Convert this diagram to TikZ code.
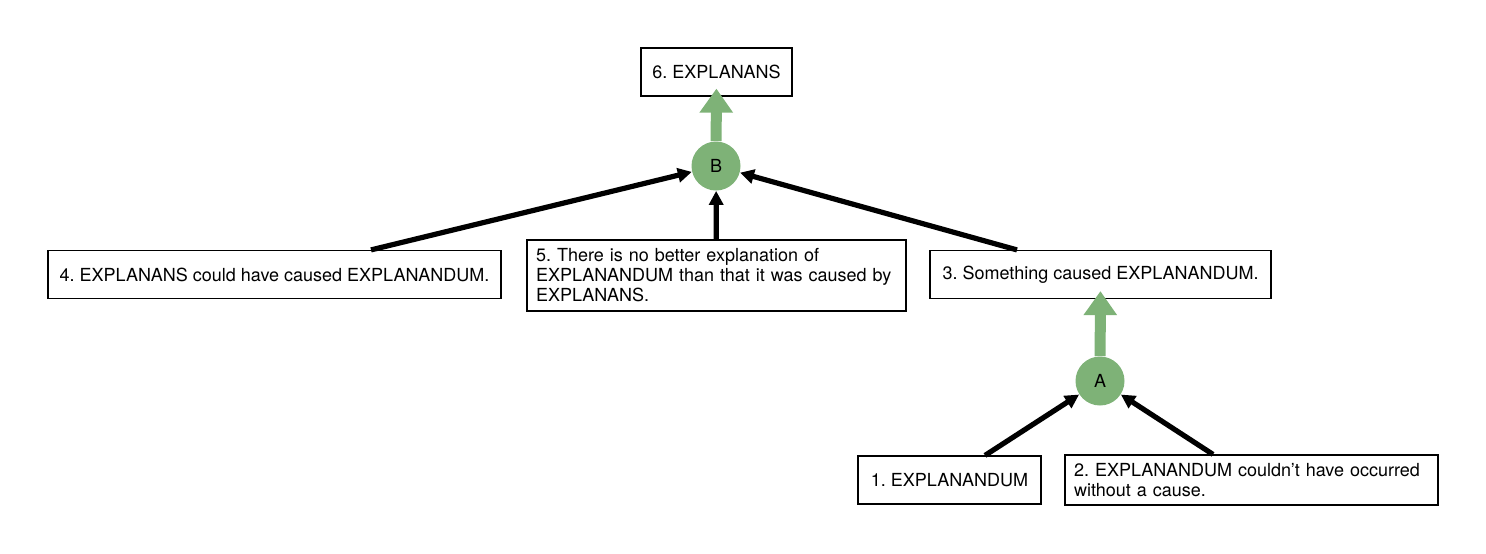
\documentclass[tikz,border=0pt]{standalone}
\usepackage{fontspec}
\setmainfont{TeX Gyre Heros}
\usetikzlibrary{arrows.meta}
\definecolor{argreen}{RGB}{126,178,119}
\frenchspacing

\begin{document}
\begin{tikzpicture}[x=0.5pt,y=-0.5pt,
    claim/.style={draw,line width=0.6pt,font=\fontsize{9}{10}\selectfont,inner xsep=5pt,minimum height=24pt},
    longclaim/.style={claim,align=left,inner xsep=4.5pt},
    inference/.style={circle,fill=argreen,minimum size=24.5pt,inner sep=0pt,font=\fontsize{9}{10}\selectfont},
    premise/.style={line width=2.6pt,-{Triangle[length=7pt,width=7pt]}},
    conclude/.style={argreen,line width=5.5pt,-{Triangle[length=12pt,width=16pt]},shorten >=-4pt}]

    \useasboundingbox (0,0) rectangle (1486,553);

    % upper argument
    \node[claim,minimum width=75.5pt] (six) at (716.5,72) {6. EXPLANANS};
    \node[inference] (B) at (716,166) {B};
    \node[claim,minimum width=226.5pt] (four) at (274.5,274.5) {4. EXPLANANS could have caused EXPLANANDUM.};
    \node[longclaim,minimum height=35.5pt,text width=180.5pt] (five) at (716.5,275.5)
        {5. There is no better explanation of\\EXPLANANDUM than that it was caused by\\EXPLANANS.};
    \node[claim,minimum width=170.5pt] (three) at (1100.5,274.5) {3. Something caused EXPLANANDUM.};

    % lower argument
    \node[inference] (A) at (1100,381) {A};
    \node[claim,minimum width=91.5pt] (one) at (949.5,480) {1. EXPLANANDUM};
    \node[longclaim,minimum height=25pt,text width=177.5pt] (two) at (1251.5,480)
        {2. EXPLANANDUM couldn't have occurred\\without a cause.};

    \draw[premise] ([xshift=48.25pt]four.north) -- (B);
    \draw[premise] (five) -- (B);
    \draw[premise] ([xshift=-41.75pt]three.north) -- (B);
    \draw[conclude] (B) -- (six);

    \draw[premise] ([xshift=17.75pt]one.north) -- (A);
    \draw[premise] ([xshift=-19.25pt]two.north) -- (A);
    \draw[conclude] (A) -- (three);
\end{tikzpicture}
\end{document}
